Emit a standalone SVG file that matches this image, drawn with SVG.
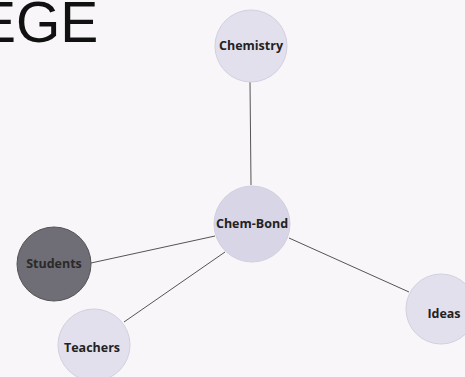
<svg xmlns="http://www.w3.org/2000/svg" width="465" height="377" viewBox="0 0 465 377">
<style>
.node{fill:#e3e0ee;stroke:#d2cfe0;stroke-width:1}
.lbl{font-family:"Open Sans","DejaVu Sans",sans-serif;font-weight:bold;font-size:12.5px;fill:#222;text-anchor:middle}
.edge{stroke:#555;stroke-width:1;fill:none}
</style>
<rect width="465" height="377" fill="#f8f6f8"/>
<text x="-22" y="42" font-family="Liberation Sans, Arial, sans-serif" font-size="57" fill="#111">EGE</text>
<g id="connectors">
<line class="edge" x1="250" y1="82" x2="251" y2="185"/>
<line class="edge" x1="215" y1="236" x2="91" y2="263"/>
<line class="edge" x1="225" y1="252" x2="124" y2="322"/>
<line class="edge" x1="289" y1="238" x2="409" y2="292"/>
</g>
<g id="chemistry"><circle class="node" cx="251" cy="46" r="36"/><text class="lbl" x="251" y="50">Chemistry</text></g>
<g id="chem-bond"><circle class="node" cx="252" cy="224" r="38" style="fill:#d8d5e6"/><text class="lbl" x="252" y="228">Chem-Bond</text></g>
<g id="students"><circle class="node" cx="54" cy="264" r="37" style="fill:#6f6d75;stroke:#555"/><text class="lbl" x="54" y="268" style="fill:#2a2a2a">Students</text></g>
<g id="teachers"><circle class="node" cx="94" cy="345" r="36"/><text class="lbl" x="92" y="352">Teachers</text></g>
<g id="ideas"><circle class="node" cx="441" cy="309" r="35"/><text class="lbl" x="444" y="318">Ideas</text></g>
</svg>
